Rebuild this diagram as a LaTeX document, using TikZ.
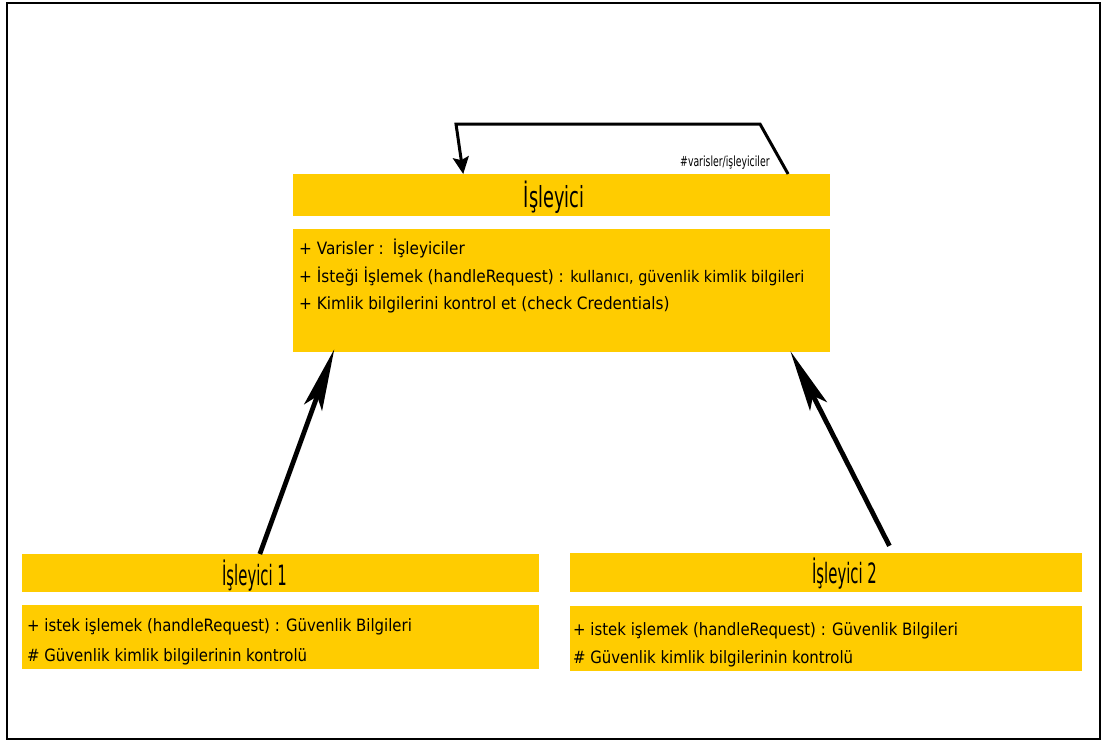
\documentclass[tikz,border=0pt]{standalone}
\usepackage{fontspec}
\setmainfont{DejaVu Sans Condensed}
\newfontfamily\titlefont{DejaVu Sans Condensed}[FakeStretch=0.68]
\newfontfamily\subtitlefont{DejaVu Sans Condensed}[FakeStretch=0.59]
\newfontfamily\subbodyfont{DejaVu Sans Condensed}[FakeStretch=0.975]
\newfontfamily\tagfont{DejaVu Sans Condensed}[FakeStretch=0.74]
\usetikzlibrary{arrows.meta,calc}
\definecolor{umlyellow}{RGB}{255,204,0}

\begin{document}
\begin{tikzpicture}[x=1pt,y=-1pt,
  band/.style={fill=umlyellow, draw=none, inner sep=0pt, outer sep=0pt, anchor=north west},
  classtitle/.style={font=\titlefont\fontsize{29}{30}\selectfont, inner sep=0pt, anchor=base},
  subtitle/.style={font=\subtitlefont\fontsize{28}{30}\selectfont, inner sep=0pt, anchor=base},
  member/.style={font=\fontsize{17}{20}\selectfont, inner sep=0pt, anchor=base west},
  submember/.style={font=\subbodyfont\fontsize{17}{20}\selectfont, inner sep=0pt, anchor=base west},
  tagtext/.style={font=\tagfont\fontsize{14}{16}\selectfont, inner sep=0pt, anchor=base west},
  inherit/.style={line width=4.8pt, -{Stealth[length=62pt,width=19pt,inset=12pt]}},
  selfref/.style={line width=3pt, line join=miter, -{Stealth[length=17pt,width=16pt,inset=3pt]}}
]
\useasboundingbox (0,0) rectangle (1105,742);
\fill[white] (0,0) rectangle (1105,742);
\draw[line width=2pt] (7,3) rectangle (1100,739);

% parent class
\node[band, minimum width=537, minimum height=42] (p-title) at (293,174) {};
\node[band, minimum width=537, minimum height=123] (p-body) at (293,229) {};
\node[classtitle] (p-name) at (554,207) {İşleyici};
\node[member] (p-m1) at (299,254.5) {+ Varisler :\hspace{9pt}İşleyiciler};
\node[member] (p-m2) at (299,282) {+ İsteği İşlemek (handleRequest) : {\fontsize{16}{18}\selectfont kullanıcı, güvenlik kimlik bilgileri}};
\node[member] (p-m3) at (299,309) {+ Kimlik bilgilerini kontrol et (check Credentials)};

% first subclass
\node[band, minimum width=517, minimum height=38] (c1-title) at (22,554) {};
\node[band, minimum width=517, minimum height=64] (c1-body) at (22,605) {};
\node[subtitle] (c1-name) at (254.5,585) {İşleyici 1};
\node[submember] (c1-m1) at (27,631) {+ istek işlemek (handleRequest) : Güvenlik Bilgileri};
\node[submember] (c1-m2) at (27,661) {\# Güvenlik kimlik bilgilerinin kontrolü};

% second subclass
\node[band, minimum width=512, minimum height=39] (c2-title) at (570,553) {};
\node[band, minimum width=512, minimum height=65] (c2-body) at (570,606) {};
\node[subtitle] (c2-name) at (844.5,583) {İşleyici 2};
\node[submember] (c2-m1) at (573,635) {+ istek işlemek (handleRequest) : Güvenlik Bilgileri};
\node[submember] (c2-m2) at (573,663) {\# Güvenlik kimlik bilgilerinin kontrolü};

% successor association on the parent
\draw[selfref] ($(p-title.north west)!0.922!(p-title.north east)$) -- (760,124) -- (456,124)
  -- ($(p-title.north west)!0.317!(p-title.north east)$);
\node[tagtext] (succ) at (680,166.5) {\#varisler/işleyiciler};

% generalisations
\draw[inherit, shorten >=-3pt] ($(c1-title.north west)!0.46!(c1-title.north east)$)
  -- ($(p-body.south west)!0.075!(p-body.south east)$);
\draw[inherit, shorten <=8pt, shorten >=-1pt] ($(c2-title.north west)!0.631!(c2-title.north east)$)
  -- ($(p-body.south west)!0.927!(p-body.south east)$);
\end{tikzpicture}
\end{document}
